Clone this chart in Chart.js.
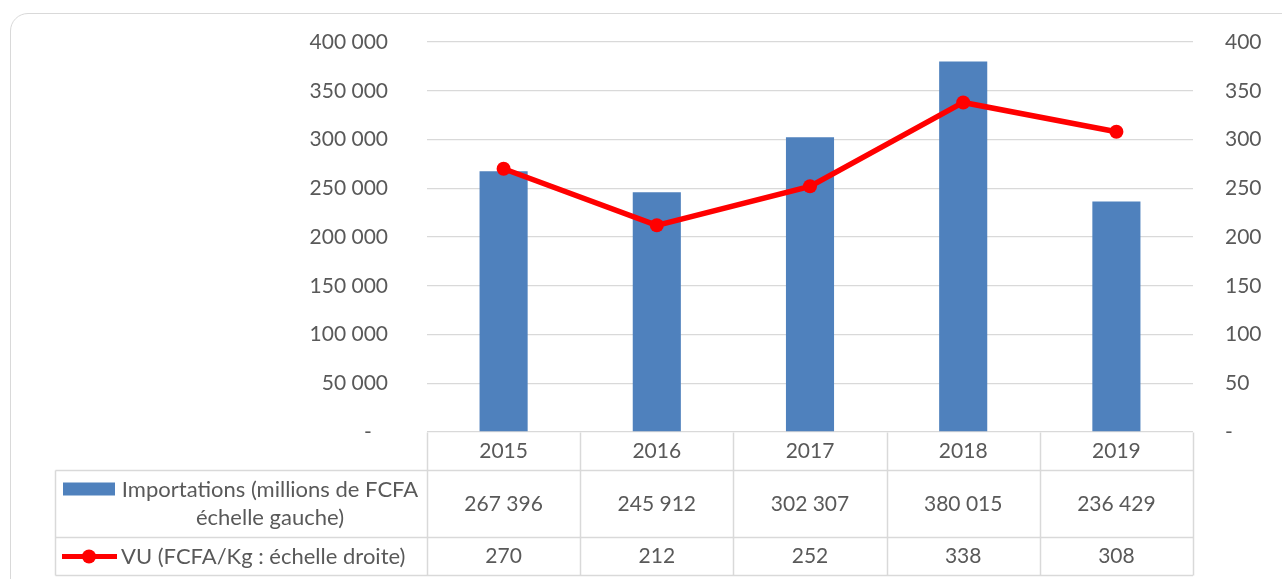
<!DOCTYPE html>
<html>
<head>
<meta charset="utf-8">
<script src="https://cdn.jsdelivr.net/npm/chart.js@4.4.0/dist/chart.umd.min.js"></script>
<style>
  html, body { margin: 0; padding: 0; background: #fff; overflow: hidden; }
  #frame {
    position: absolute; left: 10px; top: 13px; width: 1300px; height: 600px;
    border: 1px solid #d9d9d9; border-radius: 18px; box-sizing: border-box;
  }
  #wrap { position: absolute; left: 0; top: 0; width: 1282px; height: 579px; }
</style>
</head>
<body>
<div id="frame"></div>
<div id="wrap"><canvas id="chart" width="1282" height="579"></canvas></div>
<script>
// données
const years = ["2015", "2016", "2017", "2018", "2019"];
const importations = [267396, 245912, 302307, 380015, 236429];
const vu = [270, 212, 252, 338, 308];
const importLabel = ["Importations (millions de FCFA", "échelle gauche)"];
const vuLabel = "VU (FCFA/Kg : échelle droite)";

const textColor = "#595959";
const gridColor = "#d9d9d9";
const fontFamily = "Lato, 'Open Sans', sans-serif";

// 400000 -> "400 000"
function fmt(v) {
  return String(Math.round(v)).replace(/\B(?=(\d{3})+(?!\d))/g, " ");
}

// tableau de données sous le graphique
const tablePlugin = {
  id: "dataTable",
  afterDraw(chart) {
    const { ctx, chartArea: a, scales: { x } } = chart;
    const top = Math.round(a.bottom) + 0.5;
    const r1 = top + 38, r2 = r1 + 67, r3 = r2 + 38;
    const left = 55.5;
    const edges = [a.left];
    for (let i = 0; i < years.length - 1; i++) {
      edges.push((x.getPixelForValue(i) + x.getPixelForValue(i + 1)) / 2);
    }
    edges.push(a.right);

    ctx.save();
    ctx.strokeStyle = gridColor;
    ctx.lineWidth = 1.5;
    ctx.beginPath();
    edges.forEach(e => {
      const ex = Math.round(e) + 0.5;
      ctx.moveTo(ex, top); ctx.lineTo(ex, r3);
    });
    ctx.moveTo(left, r1); ctx.lineTo(left, r3);
    [r1, r2, r3].forEach(y => { ctx.moveTo(left, y); ctx.lineTo(a.right, y); });
    ctx.stroke();

    ctx.font = "21px " + fontFamily;
    ctx.fillStyle = textColor;
    ctx.textAlign = "center";
    ctx.textBaseline = "middle";
    years.forEach((yr, i) => {
      const cx = x.getPixelForValue(i);
      ctx.fillText(yr, cx, (top + r1) / 2);
      ctx.fillText(fmt(importations[i]), cx, (r1 + r2) / 2);
      ctx.fillText(fmt(vu[i]), cx, (r2 + r3) / 2);
    });

    // légende : barre
    ctx.font = "22px " + fontFamily;
    ctx.fillStyle = "#4f81bd";
    ctx.fillRect(63, r1 + 12, 52, 13);
    ctx.fillStyle = textColor;
    ctx.fillText(importLabel[0], 270, r1 + 19);
    ctx.fillText(importLabel[1], 270, r1 + 47);

    // légende : ligne
    const ly = (r2 + r3) / 2;
    ctx.strokeStyle = "#ff0000";
    ctx.lineWidth = 5;
    ctx.beginPath();
    ctx.moveTo(62, ly); ctx.lineTo(117, ly);
    ctx.stroke();
    ctx.fillStyle = "#ff0000";
    ctx.beginPath();
    ctx.arc(89, ly, 7, 0, Math.PI * 2);
    ctx.fill();
    ctx.fillStyle = textColor;
    ctx.textAlign = "left";
    ctx.fillText(vuLabel, 121, ly);
    ctx.restore();
  }
};

Chart.defaults.font.family = fontFamily;
Chart.defaults.font.size = 21;
Chart.defaults.color = textColor;

new Chart(document.getElementById("chart"), {
  type: "bar",
  data: {
    labels: years,
    datasets: [
      {
        type: "line",
        label: vuLabel,
        data: vu,
        yAxisID: "y1",
        borderColor: "#ff0000",
        backgroundColor: "#ff0000",
        borderWidth: 5.5,
        pointRadius: 7,
        pointBorderWidth: 0,
        pointBackgroundColor: "#ff0000",
        tension: 0,
        order: 0
      },
      {
        type: "bar",
        label: importLabel.join(" "),
        data: importations,
        yAxisID: "y",
        backgroundColor: "#4f81bd",
        categoryPercentage: 1,
        barPercentage: 0.314,
        order: 1
      }
    ]
  },
  options: {
    responsive: false,
    animation: false,
    layout: { padding: { top: 42, bottom: 147, left: 0, right: 0 } },
    plugins: { legend: { display: false }, tooltip: { enabled: false } },
    scales: {
      x: { display: false },
      y: {
        position: "left",
        min: 0, max: 400000,
        border: { display: false },
        // tick marks hidden, only used to push the labels away
        grid: { color: gridColor, lineWidth: 1.3, tickLength: 35, tickColor: "rgba(0,0,0,0)" },
        ticks: {
          stepSize: 50000,
          padding: 4,
          callback: v => v === 0 ? "-   " : fmt(v)
        },
        afterFit(s) { s.width = 427; }
      },
      y1: {
        position: "right",
        min: 0, max: 400,
        border: { display: false },
        grid: { drawOnChartArea: false, tickLength: 28, tickColor: "rgba(0,0,0,0)" },
        ticks: {
          stepSize: 50,
          padding: 4,
          callback: v => v === 0 ? "-" : fmt(v)
        },
        afterFit(s) { s.width = 89; }
      }
    }
  },
  plugins: [tablePlugin]
});
</script>
</body>
</html>
